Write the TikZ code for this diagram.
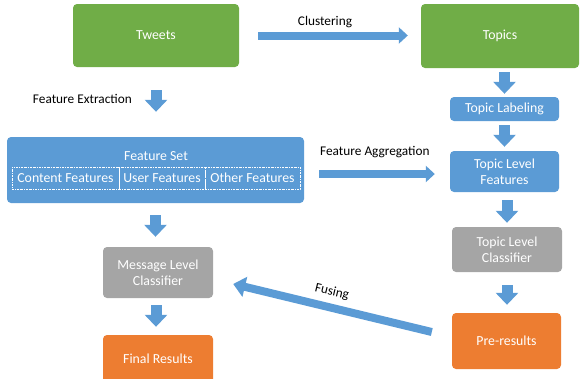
\documentclass[tikz,border=0pt]{standalone}
\usepackage{fontspec}
\setmainfont{Carlito}
\usetikzlibrary{arrows.meta,calc}
\definecolor{cgreen}{HTML}{70AD47}
\definecolor{cblue}{HTML}{5B9BD5}
\definecolor{cgray}{HTML}{A5A5A5}
\definecolor{corange}{HTML}{ED7D31}
\begin{document}
\begin{tikzpicture}[x=1pt,y=-1pt,
  box/.style={rounded corners=4pt, text=white, font=\fontsize{13.8}{16}\selectfont, align=center, inner sep=0pt},
  lbl/.style={text=black, font=\fontsize{13.3}{15}\selectfont, inner sep=0pt},
  sub/.style={draw=white, line width=0.6pt, dash pattern=on 2pt off 1pt on 0.6pt off 1pt, text=white,
    font=\fontsize{13.8}{16}\selectfont, inner sep=0pt, minimum height=22pt},
  varrow/.style={draw=cblue, line width=11pt, -{Triangle[width=22pt,length=12pt]}},
  harrow/.style={draw=cblue, line width=8pt, -{Triangle[width=16pt,length=9pt]}},
  farrow/.style={draw=cblue, line width=8pt, -{Triangle[width=20pt,length=12pt]}}]
\useasboundingbox (0,0) rectangle (580,378);
\clip (0,0) rectangle (580,378);

% boxes
\node[box, fill=cgreen, minimum width=166pt, minimum height=63pt] (tweets) at (156,35.5) {Tweets};
\node[box, fill=cgreen, minimum width=158pt, minimum height=64pt] (topics) at (500,36) {Topics};
\node[box, fill=cblue, minimum width=109pt, minimum height=24pt] (label) at (504.5,109) {Topic Labeling};
\node[box, fill=cblue, minimum width=109pt, minimum height=41pt] (tlf) at (504.5,171.5) {Topic Level\\Features};
\node[box, fill=cgray, minimum width=110pt, minimum height=45pt] (tlc) at (507,249.5) {Topic Level\\Classifier};
\node[box, fill=corange, minimum width=109pt, minimum height=56pt] (pre) at (506.5,341) {Pre-results};
\node[box, fill=cblue, minimum width=297pt, minimum height=66pt] (fs) at (155.5,170) {};
\node[box, anchor=center] (fstitle) at (156,156) {Feature Set};
\node[sub, minimum width=107pt] (cf) at (65.5,178) {Content Features};
\node[sub, minimum width=86pt] (uf) at (162,178) {User Features};
\node[sub, minimum width=95pt] (of) at (252.5,178) {Other Features};
\node[box, fill=cgray, minimum width=110pt, minimum height=51pt] (mlc) at (158,272.5) {Message Level\\Classifier};
\node[box, fill=corange, minimum width=110pt, minimum height=48pt] (final) at (158,359) {Final Results};

% labels
\node[lbl] (lclust) at (325,22) {Clustering};
\node[lbl, anchor=east] (lfe) at (132,99) {Feature Extraction};
\node[lbl, anchor=west] (lfa) at (320,152) {Feature Aggregation};
\node[lbl, rotate=-13.6] (lfus) at (332,292) {Fusing};

% arrows
\draw[harrow, shorten <=19pt, shorten >=13pt] (tweets.east) -- (tweets.east -| topics.west);
\draw[varrow, shorten <=23pt, shorten >=25pt] (tweets.south) -- (tweets.south |- fs.north);
\draw[varrow, shorten <=4pt, shorten >=3pt] (label |- topics.south) -- (label.north);
\draw[varrow, shorten <=4pt, shorten >=4pt] (label.south) -- (tlf.north);
\draw[varrow, shorten <=8pt, shorten >=4pt] (tlc |- tlf.south) -- (tlc.north);
\draw[varrow, shorten <=13pt, shorten >=8pt] (tlc.south) -- (tlc.south |- pre.north);
\coordinate (fa1) at ($(fs.east)+(0,4)$);
\draw[harrow, shorten <=15pt, shorten >=15pt] (fa1) -- (fa1 -| tlf.west);
\draw[varrow, shorten <=12pt, shorten >=10pt] (fs.south) -- (fs.south |- mlc.north);
\coordinate (m1) at ($(mlc.south)+(-2,0)$);
\draw[varrow, shorten <=7pt, shorten >=8pt] (m1) -- (m1 |- final.north);
\coordinate (ftail) at ($(pre.west)+(-20,-9)$);
\coordinate (ftip) at ($(mlc.east)+(20,11.5)$);
\draw[farrow] (ftail) -- (ftip);
\end{tikzpicture}
\end{document}
